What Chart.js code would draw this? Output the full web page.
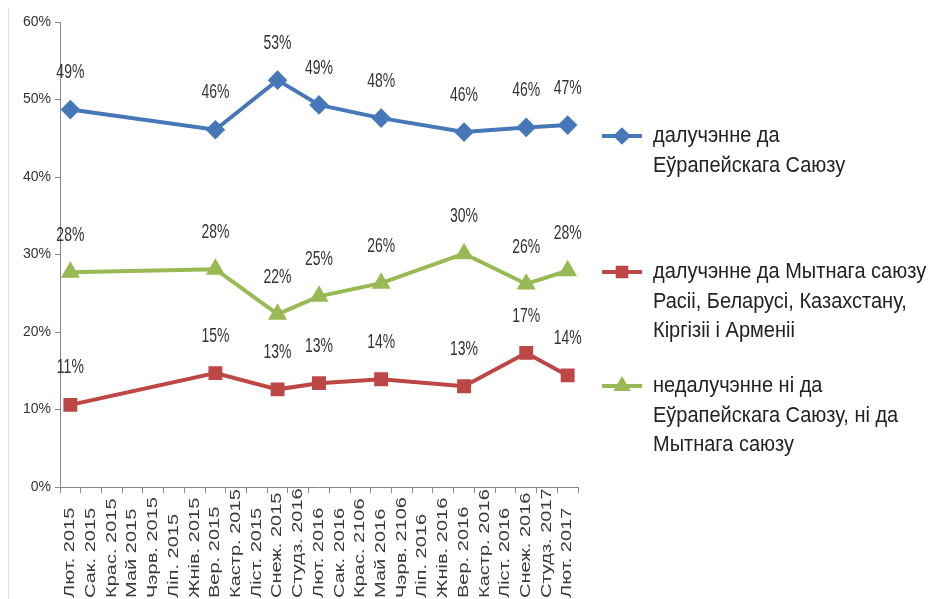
<!DOCTYPE html>
<html>
<head>
<meta charset="utf-8">
<script src="https://cdn.jsdelivr.net/npm/chart.js@4"></script>
<style>
  html, body { margin: 0; padding: 0; background: #fff; overflow: hidden; }
  #wrap { position: absolute; left: 0; top: 0; width: 936px; height: 620px; }
  #edge { position: absolute; left: 8px; top: 8px; height: 600px; border-left: 1px solid #ddd; }
</style>
</head>
<body>
<div id="edge"></div>
<div id="wrap"><canvas id="myChart"></canvas></div>
<script>
// Months on the x axis (as written in the source)
const months = [
  'Лют. 2015', 'Сак. 2015', 'Крас. 2015', 'Май 2015', 'Чэрв. 2015', 'Ліп. 2015',
  'Жнів. 2015', 'Вер. 2015', 'Кастр. 2015', 'Ліст. 2015', 'Снеж. 2015', 'Студз. 2016',
  'Лют. 2016', 'Сак. 2016', 'Крас. 2106', 'Май 2016', 'Чэрв. 2106', 'Ліп. 2016',
  'Жнів. 2016', 'Вер. 2016', 'Кастр. 2016', 'Ліст. 2016', 'Снеж. 2016', 'Студз. 2017',
  'Лют. 2017'
];

// Survey results, % (null = no survey that month)
const euValues = [48.7, null, null, null, null, null, null, 46.1, null, null, 52.5, null,
  49.3, null, null, 47.6, null, null, null, 45.8, null, null, 46.4, null, 46.7];
const customsValues = [10.6, null, null, null, null, null, null, 14.7, null, null, 12.6, null,
  13.4, null, null, 13.9, null, null, null, 13.0, null, null, 17.3, null, 14.4];
const neitherValues = [27.7, null, null, null, null, null, null, 28.1, null, null, 22.3, null,
  24.6, null, null, 26.3, null, null, null, 30.1, null, null, 26.2, null, 27.9];

const yTicks = [0, 10, 20, 30, 40, 50, 60];

const legendTexts = [
  ['далучэнне да', 'Еўрапейскага Саюзу'],
  ['далучэнне да Мытнага саюзу', 'Расіі, Беларусі, Казахстану,', 'Кіргізіі і Арменіі'],
  ['недалучэнне ні да', 'Еўрапейскага Саюзу, ні да', 'Мытнага саюзу']
];

const blue = '#4677b8';
const red = '#bc4745';
const green = '#98b954';

// Value labels above every point (picture is a bit stretched vertically)
const pointLabels = {
  id: 'pointLabels',
  afterDatasetsDraw(chart) {
    const c = chart.ctx;
    c.save();
    c.font = '14px "Liberation Sans", Arial, sans-serif';
    c.fillStyle = '#333';
    c.textAlign = 'center';
    c.textBaseline = 'middle';
    chart.data.datasets.forEach((ds, i) => {
      chart.getDatasetMeta(i).data.forEach((pt, j) => {
        const v = ds.data[j];
        if (v == null) return;
        c.save();
        c.translate(pt.x, pt.y - 37);
        c.scale(1, 1.45);
        c.fillText(Math.round(v) + '%', 0, 0);
        c.restore();
      });
    });
    c.restore();
  }
};

// Rotated month labels, stretched along the text like in the source
const monthLabels = {
  id: 'monthLabels',
  afterDraw(chart) {
    const c = chart.ctx;
    const xs = chart.scales.x;
    c.save();
    c.font = '14px "Liberation Sans", Arial, sans-serif';
    c.fillStyle = '#3a3a3a';
    c.textAlign = 'left';
    c.textBaseline = 'middle';
    chart.data.labels.forEach((lab, i) => {
      c.save();
      c.translate(xs.getPixelForTick(i), 598);
      c.rotate(-Math.PI / 2);
      c.scale(1.43, 1);
      c.fillText(lab, 0, 0);
      c.restore();
    });
    c.restore();
  }
};

// Legend on the right with wrapped text
const sideLegend = {
  id: 'sideLegend',
  afterDraw(chart) {
    const c = chart.ctx;
    const tops = [136, 272, 386];
    const styles = ['rectRot', 'rect', 'triangle'];
    c.save();
    chart.data.datasets.forEach((ds, i) => {
      const y = tops[i];
      c.strokeStyle = ds.borderColor;
      c.lineWidth = 4;
      c.beginPath();
      c.moveTo(602, y);
      c.lineTo(642, y);
      c.stroke();
      c.fillStyle = ds.borderColor;
      Chart.helpers.drawPoint(c, { pointStyle: styles[i], radius: 6, borderWidth: 1 }, 622, y);
      c.fill();
      c.font = '20px "Liberation Sans", Arial, sans-serif';
      c.fillStyle = '#222';
      c.textAlign = 'left';
      c.textBaseline = 'middle';
      legendTexts[i].forEach((line, k) => {
        c.save();
        c.translate(653, y + k * 29.5);
        c.scale(1, 1.12);
        c.fillText(line, 0, 0);
        c.restore();
      });
    });
    c.restore();
  }
};

const ctx = document.getElementById('myChart');

const myChart = new Chart(ctx, {
  type: 'line',
  data: {
    labels: months,
    datasets: [{
      label: 'далучэнне да Еўрапейскага Саюзу',
      data: euValues,
      borderColor: blue,
      backgroundColor: blue,
      pointStyle: 'rectRot',
      pointRadius: 7,
      borderWidth: 4
    }, {
      label: 'далучэнне да Мытнага саюзу Расіі, Беларусі, Казахстану, Кіргізіі і Арменіі',
      data: customsValues,
      borderColor: red,
      backgroundColor: red,
      pointStyle: 'rect',
      pointRadius: 7,
      borderWidth: 4
    }, {
      label: 'недалучэнне ні да Еўрапейскага Саюзу, ні да Мытнага саюзу',
      data: neitherValues,
      borderColor: green,
      backgroundColor: green,
      pointStyle: 'triangle',
      pointRadius: 7,
      borderWidth: 4
    }]
  },
  options: {
    responsive: true,
    maintainAspectRatio: false,
    animation: false,
    spanGaps: true,
    layout: { padding: { top: 22, right: 358, left: 0, bottom: 0 } },
    plugins: {
      legend: { display: false },
      tooltip: { enabled: false }
    },
    scales: {
      x: {
        offset: true,
        afterFit: (s) => { s.height = 133; },
        grid: { offset: true, drawOnChartArea: false, tickLength: 6, color: '#888' },
        border: { color: '#888' },
        ticks: { display: false, autoSkip: false }
      },
      y: {
        min: 0,
        max: 60,
        afterFit: (s) => { s.width = 60; },
        afterBuildTicks: (s) => { s.ticks = yTicks.map(v => ({ value: v })); },
        grid: { drawOnChartArea: false, tickLength: 5, color: '#888' },
        border: { color: '#888' },
        ticks: {
          color: '#333',
          padding: 4,
          font: { family: '"Liberation Sans", Arial, sans-serif', size: 14 },
          callback: (v) => v + '%'
        }
      }
    }
  },
  plugins: [pointLabels, monthLabels, sideLegend]
});
</script>
</body>
</html>
